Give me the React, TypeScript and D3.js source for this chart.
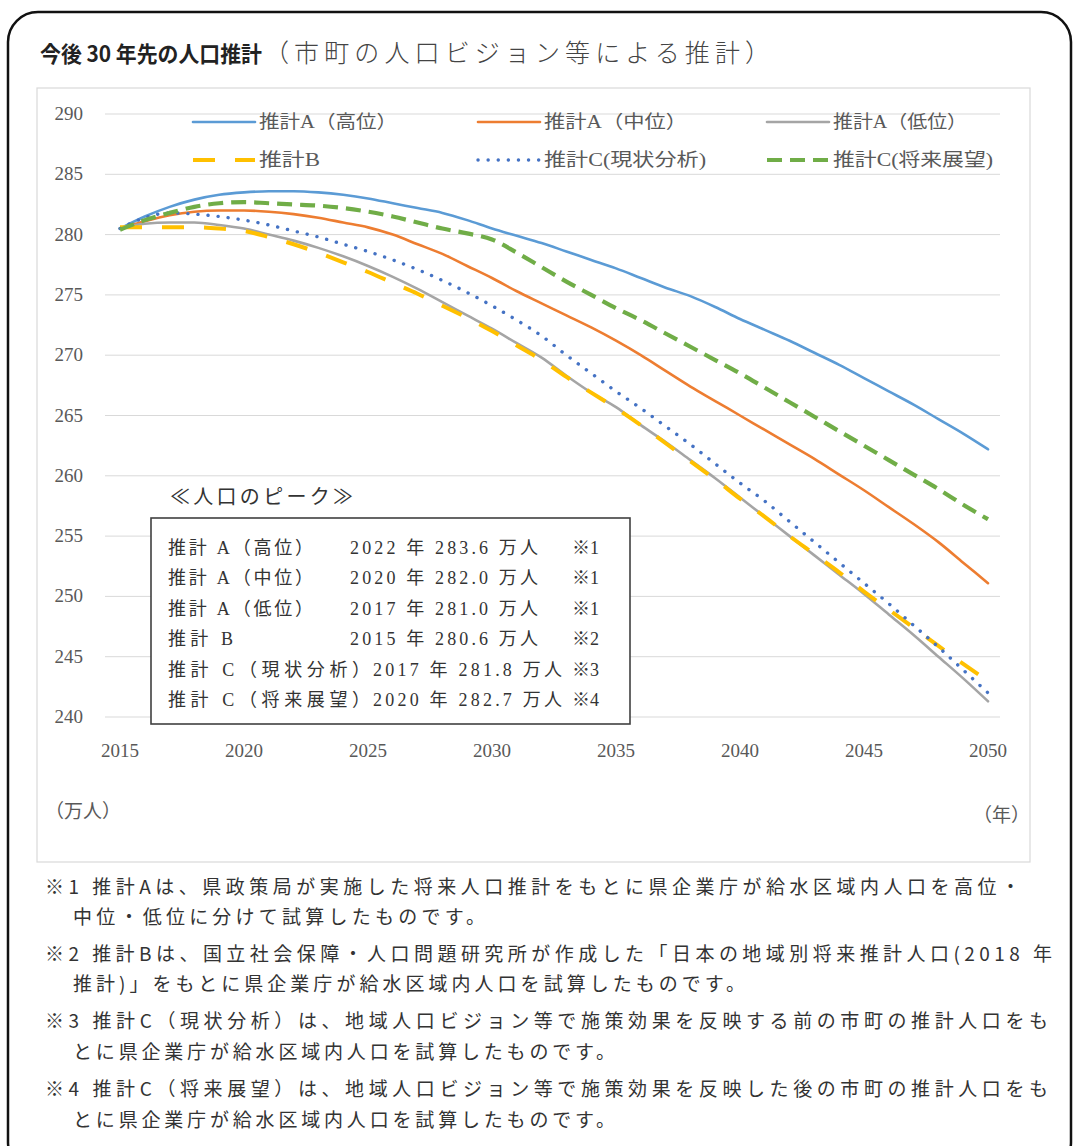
import React, { useEffect, useRef } from "react";
import * as d3 from "d3";

// 推計人口（万人）
const years = [
  2015, 2016, 2017, 2018, 2019, 2020, 2021, 2022, 2023, 2024, 2025, 2026,
  2027, 2028, 2029, 2030, 2031, 2032, 2033, 2034, 2035, 2036, 2037, 2038,
  2039, 2040, 2041, 2042, 2043, 2044, 2045, 2046, 2047, 2048, 2049, 2050,
];
const estAHigh = [
  280.5, 281.5, 282.3, 282.9, 283.3, 283.5, 283.6, 283.6, 283.5, 283.3, 283.0,
  282.6, 282.2, 281.8, 281.2, 280.5, 279.9, 279.3, 278.6, 277.9, 277.2, 276.4,
  275.6, 274.9, 274.0, 273.0, 272.1, 271.2, 270.2, 269.2, 268.1, 267.0, 265.9,
  264.7, 263.5, 262.2,
];
const estAMid = [
  280.5, 281.1, 281.6, 281.9, 282.0, 282.0, 281.9, 281.7, 281.4, 281.0, 280.6,
  280.0, 279.2, 278.4, 277.4, 276.4, 275.3, 274.3, 273.3, 272.3, 271.2, 270.0,
  268.7, 267.4, 266.2, 265.0, 263.8, 262.6, 261.4, 260.1, 258.8, 257.4, 256.0,
  254.5, 252.8, 251.1,
];
const estALow = [
  280.5, 280.9, 281.0, 281.0, 280.8, 280.5, 280.0, 279.5, 278.9, 278.2, 277.4,
  276.5, 275.5, 274.4, 273.3, 272.2, 271.0, 269.8, 268.3, 266.9, 265.7, 264.2,
  262.8, 261.3, 259.8, 258.2, 256.6, 255.0, 253.4, 251.8, 250.2, 248.5, 246.8,
  245.0, 243.2, 241.3,
];
const estB = [
  280.6, 280.6, 280.6, 280.6, 280.5, 280.3, 279.8, 279.2, 278.5, 277.7, 276.9,
  276.0, 275.1, 274.1, 273.1, 272.0, 270.8, 269.6, 268.2, 266.9, 265.6, 264.2,
  262.7, 261.2, 259.7, 258.1, 256.6, 255.0, 253.5, 252.0, 250.4, 248.9, 247.4,
  245.9, 244.4, 243.0,
];
const estCCurrent = [
  280.5, 281.4, 281.8, 281.7, 281.5, 281.2, 280.8, 280.3, 279.8, 279.2, 278.6,
  277.9, 277.1, 276.2, 275.2, 274.1, 272.9, 271.6, 270.0, 268.5, 267.0, 265.6,
  264.1, 262.6, 261.0, 259.4, 257.9, 256.2, 254.5, 252.8, 251.1, 249.4, 247.6,
  245.8, 243.9, 242.0,
];
const estCFuture = [
  280.4, 281.2, 281.8, 282.3, 282.6, 282.7, 282.6, 282.5, 282.4, 282.2, 281.9,
  281.5, 281.0, 280.5, 280.1, 279.6, 278.5, 277.3, 276.1, 275.0, 273.9, 272.9,
  271.8, 270.7, 269.6, 268.5, 267.3, 266.1, 264.9, 263.7, 262.5, 261.3, 260.1,
  258.9, 257.6, 256.4,
];

const xTicks = [2015, 2020, 2025, 2030, 2035, 2040, 2045, 2050];
const yTicks = [240, 245, 250, 255, 260, 265, 270, 275, 280, 285, 290];

const peakLabels = [
  "推計 A（高位）",
  "推計 A（中位）",
  "推計 A（低位）",
  "推計 B",
  "推計 C（現状分析）",
  "推計 C（将来展望）",
];
const peakValues = [
  "2022 年 283.6 万人",
  "2020 年 282.0 万人",
  "2017 年 281.0 万人",
  "2015 年 280.6 万人",
  "2017 年 281.8 万人",
  "2020 年 282.7 万人",
];
const peakNotes = ["※1", "※1", "※1", "※2", "※3", "※4"];

const footnotes = [
  "※1 推計Aは、県政策局が実施した将来人口推計をもとに県企業庁が給水区域内人口を高位・",
  "中位・低位に分けて試算したものです。",
  "※2 推計Bは、国立社会保障・人口問題研究所が作成した「日本の地域別将来推計人口(2018 年",
  "推計)」をもとに県企業庁が給水区域内人口を試算したものです。",
  "※3 推計C（現状分析）は、地域人口ビジョン等で施策効果を反映する前の市町の推計人口をも",
  "とに県企業庁が給水区域内人口を試算したものです。",
  "※4 推計C（将来展望）は、地域人口ビジョン等で施策効果を反映した後の市町の推計人口をも",
  "とに県企業庁が給水区域内人口を試算したものです。",
];

const SERIF = "'Liberation Serif', 'Noto Sans CJK JP', serif";
const SANS = "'Noto Sans CJK JP', sans-serif";

const App = () => {
  const ref: any = useRef(null);
  const width = 1075;
  const height = 1146;

  useEffect(() => {
    const svg = d3
      .select(ref.current)
      .append("svg")
      .attr("width", width)
      .attr("height", height)
      .style("position", "absolute")
      .style("left", "0px")
      .style("top", "0px")
      .style("background", "#fff");

    // outer rounded frame
    svg
      .append("rect")
      .attr("x", 8)
      .attr("y", 12)
      .attr("width", 1063)
      .attr("height", 1160)
      .attr("rx", 30)
      .attr("fill", "none")
      .attr("stroke", "#111")
      .attr("stroke-width", 2.5);

    // title
    svg
      .append("text")
      .attr("x", 40)
      .attr("y", 62)
      .attr("font-family", SANS)
      .attr("font-size", 22)
      .attr("font-weight", "bold")
      .attr("fill", "#222")
      .attr("textLength", 222)
      .attr("lengthAdjust", "spacingAndGlyphs")
      .text("今後 30 年先の人口推計");
    svg
      .append("text")
      .attr("x", 264)
      .attr("y", 62)
      .attr("font-family", SANS)
      .attr("font-size", 25)
      .attr("font-weight", 300)
      .attr("fill", "#444")
      .attr("textLength", 770 - 264)
      .attr("lengthAdjust", "spacing")
      .text("（市町の人口ビジョン等による推計）");

    // chart frame
    svg
      .append("rect")
      .attr("x", 37)
      .attr("y", 88)
      .attr("width", 993)
      .attr("height", 774)
      .attr("fill", "none")
      .attr("stroke", "#d9d9d9")
      .attr("stroke-width", 1.2);

    const x = d3.scaleLinear().domain([2015, 2050]).range([120, 988]);
    const y = d3.scaleLinear().domain([240, 290]).range([717, 114]);

    // gridlines
    svg
      .append("g")
      .selectAll("line")
      .data(yTicks)
      .join("line")
      .attr("x1", 105)
      .attr("x2", 1000)
      .attr("y1", (d) => y(d))
      .attr("y2", (d) => y(d))
      .attr("stroke", "#d9d9d9")
      .attr("stroke-width", 1);

    // y labels
    svg
      .append("g")
      .selectAll("text")
      .data(yTicks)
      .join("text")
      .attr("x", 83)
      .attr("y", (d) => y(d) + 6)
      .attr("text-anchor", "end")
      .attr("font-family", SERIF)
      .attr("font-size", 19)
      .attr("fill", "#595959")
      .text((d) => d);

    // x labels
    svg
      .append("g")
      .selectAll("text")
      .data(xTicks)
      .join("text")
      .attr("x", (d) => x(d))
      .attr("y", 757)
      .attr("text-anchor", "middle")
      .attr("font-family", SERIF)
      .attr("font-size", 19)
      .attr("fill", "#595959")
      .text((d) => d);

    svg
      .append("text")
      .attr("x", 45)
      .attr("y", 818)
      .attr("font-family", SANS)
      .attr("font-size", 19)
      .attr("fill", "#595959")
      .text("（万人）");
    svg
      .append("text")
      .attr("x", 1030)
      .attr("y", 822)
      .attr("text-anchor", "end")
      .attr("font-family", SANS)
      .attr("font-size", 19)
      .attr("fill", "#595959")
      .text("（年）");

    const series = [
      { name: "推計A（高位）", values: estAHigh, color: "#5b9bd5", dash: "", w: 2.6, cap: "round", lx: 193, ly: 122, tEnd: 397 },
      { name: "推計A（中位）", values: estAMid, color: "#ed7d31", dash: "", w: 2.6, cap: "round", lx: 478, ly: 122, tEnd: 687 },
      { name: "推計A（低位）", values: estALow, color: "#a5a5a5", dash: "", w: 2.6, cap: "round", lx: 767, ly: 122, tEnd: 967 },
      { name: "推計B", values: estB, color: "#ffc000", dash: "22 20", w: 4, cap: "butt", lx: 193, ly: 160, tEnd: 320 },
      { name: "推計C(現状分析)", values: estCCurrent, color: "#4472c4", dash: "0.1 10", w: 3.4, cap: "round", lx: 478, ly: 160, tEnd: 706 },
      { name: "推計C(将来展望)", values: estCFuture, color: "#70ad47", dash: "15 8", w: 4.2, cap: "butt", lx: 767, ly: 160, tEnd: 993 },
    ];

    const line = d3
      .line<number>()
      .x((_, i) => x(years[i]))
      .y((d) => y(d))
      .curve(d3.curveMonotoneX);

    series.forEach((s) => {
      svg
        .append("path")
        .datum(s.values)
        .attr("d", line)
        .attr("fill", "none")
        .attr("stroke", s.color)
        .attr("stroke-width", s.w)
        .attr("stroke-linecap", s.cap)
        .attr("stroke-linejoin", "round")
        .attr("stroke-dasharray", s.dash || null);
    });

    // legend
    const lg = svg.append("g");
    series.forEach((s) => {
      lg.append("line")
        .attr("x1", s.lx)
        .attr("x2", s.lx + 62)
        .attr("y1", s.ly)
        .attr("y2", s.ly)
        .attr("stroke", s.color)
        .attr("stroke-width", s.w)
        .attr("stroke-linecap", s.cap)
        .attr("stroke-dasharray", s.dash || null);
      lg.append("text")
        .attr("x", s.lx + 66)
        .attr("y", s.ly + 6)
        .attr("font-family", SERIF)
        .attr("font-size", 18)
        .attr("fill", "#595959")
        .attr("textLength", s.tEnd - s.lx - 66)
        .attr("lengthAdjust", "spacingAndGlyphs")
        .text(s.name);
    });

    // peak box
    svg
      .append("text")
      .attr("x", 170)
      .attr("y", 504)
      .attr("font-family", SANS)
      .attr("font-size", 20)
      .attr("fill", "#333")
      .attr("textLength", 183)
      .attr("lengthAdjust", "spacing")
      .text("≪人口のピーク≫");
    svg
      .append("rect")
      .attr("x", 151)
      .attr("y", 518)
      .attr("width", 479)
      .attr("height", 206)
      .attr("fill", "#fff")
      .attr("stroke", "#404040")
      .attr("stroke-width", 1.6);

    const pb = svg
      .append("g")
      .attr("font-family", SERIF)
      .attr("font-size", 18)
      .attr("fill", "#333");
    peakLabels.forEach((lab, i) => {
      const by = 554 + i * 30.4;
      const wide = i >= 4;
      const labEnd = i === 3 ? 233 : wide ? 370 : 313;
      pb.append("text")
        .attr("x", 168)
        .attr("y", by)
        .attr("textLength", labEnd - 168)
        .attr("lengthAdjust", "spacing")
        .text(lab);
      const vx = wide ? 373 : 350;
      const vEnd = wide ? 562 : 538;
      pb.append("text")
        .attr("x", vx)
        .attr("y", by)
        .attr("textLength", vEnd - vx)
        .attr("lengthAdjust", "spacing")
        .text(peakValues[i]);
      pb.append("text")
        .attr("x", 599)
        .attr("y", by)
        .attr("text-anchor", "end")
        .text(peakNotes[i]);
    });

    // footnotes
    const fnY = [894, 924, 961, 991, 1028, 1059, 1096, 1127];
    const fnX = [45, 73, 45, 73, 45, 73, 45, 73];
    const fnEnd = [1020, 485, 1052, 745, 1048, 615, 1048, 615];
    const fg = svg
      .append("g")
      .attr("font-family", SANS)
      .attr("font-size", 19)
      .attr("fill", "#333");
    footnotes.forEach((t, i) => {
      fg.append("text")
        .attr("x", fnX[i])
        .attr("y", fnY[i])
        .attr("textLength", fnEnd[i] - fnX[i])
        .attr("lengthAdjust", "spacing")
        .text(t);
    });
  }, []);

  return <div id="chart" ref={ref}></div>;
};

export default App;
